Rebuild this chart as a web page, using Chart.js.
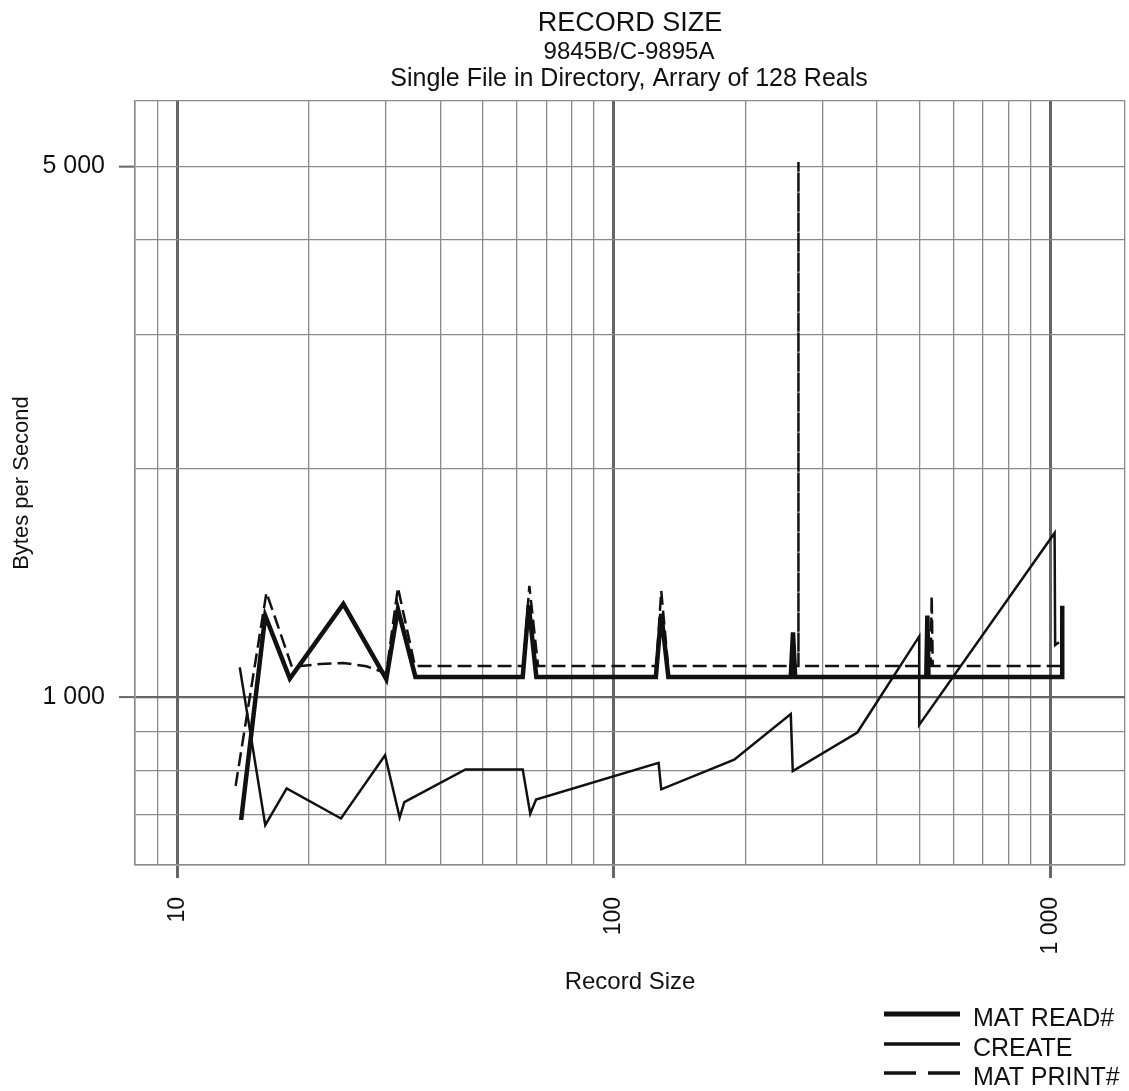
<!DOCTYPE html>
<html lang="en">
<head>
  <meta charset="UTF-8">
  <title>Record Size</title>
  <script src="https://cdn.jsdelivr.net/npm/chart.js"></script>
  <style>
    body { margin: 0; background: #fff; }
    canvas { display: block; }
  </style>
</head>
<body>
  <canvas id="chart" width="1129" height="1091"></canvas>
  <script>
    // values (log-log axes)
    const matReadX = [14, 15.9, 18.1, 24, 30.1, 32, 35.1, 61.8, 63.8, 66.4, 124.7, 128.3, 133.2, 254, 257, 260, 519, 522, 525, 1063, 1063];
    const matReadY = [688, 1279, 1057, 1325, 1055, 1305, 1062, 1062, 1320, 1062, 1062, 1286, 1062, 1062, 1216, 1062, 1062, 1279, 1062, 1062, 1318];

    const createX = [13.9, 15.9, 17.8, 23.7, 29.9, 32.3, 33.1, 45.7, 61.8, 64.3, 66.3, 126.5, 128.3, 188.5, 254, 256.7, 360.8, 500, 500, 1021, 1024, 1045];
    const createY = [1093, 677, 757, 691, 837, 693, 726, 802, 802, 701, 732, 818, 755, 826, 949, 798, 897, 1201, 918, 1644, 1170, 1180];

    const matPrintX = [13.6, 16, 18.3, 21.2, 24, 27.1, 30.1, 32, 35, 62, 64, 67, 125, 128.3, 133, 264.5, 264.5, 264.5, 531, 534, 537, 1063];
    const matPrintY = [763, 1372, 1095, 1104, 1108, 1097, 1073, 1393, 1098, 1098, 1400, 1098, 1098, 1379, 1098, 1098, 5067, 1098, 1098, 1359, 1098, 1098];

    const seriesNames = ['MAT READ#', 'CREATE', 'MAT PRINT#'];
    const titleLines = ['RECORD SIZE', '9845B/C-9895A', 'Single File in Directory, Arrary of 128 Reals'];

    // grid lines of the log paper (first/last ones are the frame)
    const xGrid = [8, 9, 10, 20, 30, 40, 50, 60, 70, 80, 90, 100, 200, 300, 400, 500, 600, 700, 800, 900, 1000, 1480];
    const yGrid = [600, 700, 800, 900, 1000, 2000, 3000, 4000, 5000, 6100];
    const xTickValues = [10, 100, 1000];
    const xTickText = ['10', '100', '1 000'];
    const yTickValues = [1000, 5000];
    const yTickText = ['1 000', '5 000'];

    const FONT = "'Liberation Sans', Arial, Helvetica, sans-serif";
    const INK = '#111';
    const GRID = '#8a8a8a';
    const GRID_MAJOR = '#666';

    const pts = (xs, ys) => xs.map((x, i) => ({ x, y: ys[i] }));
    const isDecade = v => Math.abs(Math.log10(v) - Math.round(Math.log10(v))) < 1e-9;

    // title block and the legend in the lower right corner
    const headerLegend = {
      id: 'headerLegend',
      afterDraw(chart) {
        const ctx = chart.ctx;
        ctx.save();
        ctx.fillStyle = INK;
        ctx.textAlign = 'center';
        ctx.textBaseline = 'alphabetic';
        ctx.font = '27px ' + FONT;
        ctx.fillText(titleLines[0], 630, 31);
        ctx.font = '24px ' + FONT;
        ctx.fillText(titleLines[1], 629, 59);
        ctx.font = '25px ' + FONT;
        ctx.fillText(titleLines[2], 629, 86);

        const legendY = [1014, 1044, 1073];
        const legendW = [5, 3.3, 3.3];
        ctx.textAlign = 'left';
        ctx.font = '25px ' + FONT;
        chart.data.datasets.forEach((ds, i) => {
          ctx.beginPath();
          ctx.strokeStyle = ds.borderColor;
          ctx.lineWidth = legendW[i];
          ctx.setLineDash(ds.borderDash ? [32, 12] : []);
          ctx.moveTo(884, legendY[i]);
          ctx.lineTo(960, legendY[i]);
          ctx.stroke();
          ctx.fillText(ds.label, 973, legendY[i] + 12);
        });
        ctx.restore();
      }
    };

    new Chart(document.getElementById('chart'), {
      type: 'line',
      data: {
        datasets: [
          { label: seriesNames[0], data: pts(matReadX, matReadY), borderColor: INK, borderWidth: 4.5 },
          { label: seriesNames[1], data: pts(createX, createY), borderColor: INK, borderWidth: 2.5 },
          { label: seriesNames[2], data: pts(matPrintX, matPrintY), borderColor: INK, borderWidth: 2.5, borderDash: [14, 6] }
        ]
      },
      options: {
        responsive: false,
        animation: false,
        layout: { padding: { top: 101, right: 4, left: 0, bottom: 0 } },
        elements: {
          point: { radius: 0 },
          line: { tension: 0, fill: false }
        },
        plugins: {
          legend: { display: false },
          tooltip: { enabled: false }
        },
        scales: {
          x: {
            type: 'logarithmic',
            min: 8,
            max: 1480,
            afterBuildTicks: s => { s.ticks = xGrid.map(v => ({ value: v })); },
            afterFit: s => { s.height = 226; s.paddingLeft = 0; s.paddingRight = 0; },
            ticks: {
              autoSkip: false,
              minRotation: 90,
              maxRotation: 90,
              padding: 19,
              color: INK,
              font: { family: FONT, size: 23 },
              callback: v => {
                const i = xTickValues.indexOf(v);
                return i < 0 ? '' : xTickText[i];
              }
            },
            grid: {
              color: c => isDecade(c.tick.value) ? GRID_MAJOR : GRID,
              lineWidth: c => isDecade(c.tick.value) ? 3 : 1.3,
              tickColor: c => isDecade(c.tick.value) ? GRID_MAJOR : 'rgba(0,0,0,0)',
              tickWidth: 3,
              tickLength: 13
            },
            border: { display: true, color: GRID, width: 1.5 },
            title: {
              display: true,
              text: 'Record Size',
              color: INK,
              font: { family: FONT, size: 24 },
              padding: { top: 0, bottom: 94 }
            }
          },
          y: {
            type: 'logarithmic',
            min: 600,
            max: 6100,
            afterBuildTicks: s => { s.ticks = yGrid.map(v => ({ value: v })); },
            afterFit: s => { s.width = 135; s.paddingTop = 0; s.paddingBottom = 0; },
            ticks: {
              autoSkip: false,
              padding: 14,
              color: INK,
              font: { family: FONT, size: 25 },
              callback: v => {
                const i = yTickValues.indexOf(v);
                return i < 0 ? '' : yTickText[i];
              }
            },
            grid: {
              color: c => c.tick.value === 1000 ? GRID_MAJOR : GRID,
              lineWidth: c => c.tick.value === 1000 ? 2.2 : 1.3,
              tickColor: c => yTickValues.includes(c.tick.value) ? GRID_MAJOR : 'rgba(0,0,0,0)',
              tickWidth: 2,
              tickLength: 16
            },
            border: { display: true, color: GRID, width: 1.5 },
            title: {
              display: true,
              text: 'Bytes per Second',
              color: INK,
              font: { family: FONT, size: 22 },
              padding: { top: 9, bottom: 0 }
            }
          }
        }
      },
      plugins: [headerLegend]
    });
  </script>
</body>
</html>
